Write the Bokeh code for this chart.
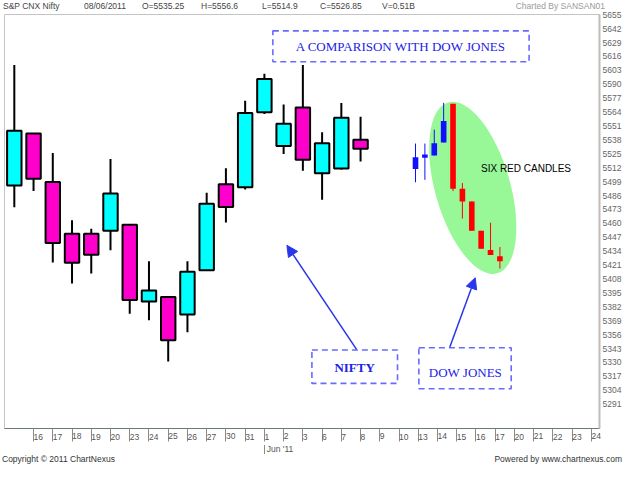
from bokeh.plotting import figure
from bokeh.layouts import column
from bokeh.models import (Range1d, FixedTicker, CustomJSTickFormatter, Label,
                          BoxAnnotation, Arrow, NormalHead, Div)
from bokeh.embed import file_html
from bokeh.resources import INLINE

# ---------------- data ----------------
# trading-day index 0 = 13 May 2011
date_labels = ["13", "16", "17", "18", "19", "20", "23", "24", "25", "26", "27",
               "30", "31", "1", "2", "3", "6", "7", "8", "9", "10", "13", "14",
               "15", "16", "17", "20", "21", "22", "23", "24"]
month_label = "Jun '11"
month_start = 13          # index of 1 June

nifty_open = [5492.3, 5540.9, 5495.6, 5447.4, 5447.4, 5450.1, 5455.8, 5384.0, 5388.1, 5371.8,
              5413.2, 5493.6, 5490.8, 5560.9, 5529.4, 5565.4, 5503.8, 5508.3, 5535.25]
nifty_high = [5605.0, 5540.9, 5522.8, 5460.0, 5451.9, 5517.1, 5455.8, 5421.6, 5388.1, 5421.6,
              5485.7, 5508.6, 5571.7, 5596.8, 5568.1, 5605.0, 5542.1, 5569.6, 5556.6]
nifty_low = [5472.1, 5487.2, 5420.5, 5400.8, 5410.2, 5431.9, 5372.5, 5366.4, 5327.8, 5355.2,
             5413.2, 5457.9, 5488.7, 5559.3, 5521.9, 5506.2, 5479.1, 5507.4, 5514.9]
nifty_close = [5543.6, 5498.6, 5438.6, 5420.2, 5427.7, 5485.0, 5385.4, 5394.2, 5347.7, 5411.7,
               5475.4, 5472.4, 5560.2, 5591.9, 5550.0, 5516.5, 5531.9, 5555.7, 5526.85]

# pasted Dow Jones candles, read on the chart's own price scale
dow_open = [5507.7, 5518.3, 5520.4, 5532.5, 5568.7, 5489.3, 5477.5, 5450.1, 5432.2, 5426.2]
dow_high = [5531.6, 5531.6, 5544.6, 5569.6, 5568.7, 5494.7, 5477.5, 5450.1, 5457.6, 5434.9]
dow_low = [5495.4, 5497.7, 5520.4, 5532.5, 5487.2, 5461.5, 5450.1, 5433.4, 5427.4, 5414.8]
dow_close = [5518.9, 5521.3, 5531.9, 5552.7, 5489.3, 5477.5, 5450.1, 5433.4, 5427.4, 5421.6]

price_labels = [5655, 5642, 5629, 5616, 5603, 5590, 5577, 5564, 5551, 5538, 5525, 5512,
                5499, 5486, 5473, 5460, 5447, 5434, 5421, 5408, 5395, 5382, 5369, 5356,
                5343, 5330, 5317, 5304, 5291]

header_texts = ["S&amp;P CNX Nifty", "08/06/2011", "O=5535.25", "H=5556.6", "L=5514.9",
                "C=5526.85", "V=0.51B"]
credit_text = "Charted By SANSAN01"
copyright_text = "Copyright &copy; 2011 ChartNexus"
powered_text = "Powered by www.chartnexus.com"

# ---------------- layout constants ----------------
W = 624
HEAD_H, FOOT_H = 11, 19
MAIN_H = 464 - HEAD_H - FOOT_H
LEFT_B, RIGHT_B = 4, 23
X0, X1 = -0.51, 30.42
UP, DOWN = "#00FFFF", "#FF00CC"
SANS = "Liberation Sans"
SERIF = "Liberation Serif"
BASE = "font-family:'Liberation Sans',sans-serif;font-size:8.5px;white-space:nowrap;"

# ---------------- header ----------------
hx = [3, 84, 142, 201, 262, 320, 382]
spans = "".join(
    f'<span style="position:absolute;left:{x}px;top:0px;line-height:{HEAD_H}px;color:#444444;">{t}</span>'
    for x, t in zip(hx, header_texts))
spans += (f'<span style="position:absolute;right:19px;top:0px;line-height:{HEAD_H}px;'
          f'color:#9a9a9a;">{credit_text}</span>')
head = Div(width=W, height=HEAD_H, margin=0,
           text=f'<div style="position:relative;width:{W}px;height:{HEAD_H}px;{BASE}">{spans}</div>')

# ---------------- main chart ----------------
p = figure(width=W, height=MAIN_H, output_backend="svg", toolbar_location=None,
           x_range=Range1d(X0, X1), y_range=Range1d(5265.3, 5652.2),
           y_axis_location="right", min_border_left=LEFT_B, min_border_right=RIGHT_B,
           min_border_top=3, min_border_bottom=0)
p.extra_x_ranges = {"dow": Range1d(-43.83, 19.62)}
p.grid.visible = False
p.outline_line_color = "#c4c4c4"

xa = p.xaxis[0]
xa.ticker = FixedTicker(ticks=list(range(1, len(date_labels))))
xa.major_label_overrides = {i: date_labels[i] for i in range(1, len(date_labels))}
xa.major_label_orientation = -1e-6
xa.major_tick_out = 13
xa.major_tick_in = 0
xa.minor_tick_out = 0
xa.major_tick_line_color = "#8a8a8a"
xa.axis_line_color = "#6b7b6b"
xa.major_label_standoff = -5
xa.major_label_text_font = SANS
xa.major_label_text_font_size = "8.5px"
xa.major_label_text_color = "#555555"

ya = p.yaxis[0]
ya.ticker = FixedTicker(ticks=[v - 3 for v in price_labels])
ya.formatter = CustomJSTickFormatter(code="return String(Math.round(tick) + 3);")
ya.major_tick_out = 0
ya.major_tick_in = 0
ya.minor_tick_out = 0
ya.axis_line_color = "#bdbdbd"
ya.axis_line_width = 2
ya.major_label_standoff = 3
ya.major_label_text_font = SANS
ya.major_label_text_font_size = "8.5px"
ya.major_label_text_color = "#666666"

# Nifty candles
idx = list(range(len(nifty_open)))
cols = [UP if c >= o else DOWN for o, c in zip(nifty_open, nifty_close)]
tops = [max(o, c) for o, c in zip(nifty_open, nifty_close)]
bots = [min(o, c) for o, c in zip(nifty_open, nifty_close)]
p.segment(x0=idx, y0=nifty_low, x1=idx, y1=nifty_high, line_color="black", line_width=2)
p.vbar(x=idx, top=tops, bottom=bots, width=0.75, fill_color=cols,
       line_color="black", line_width=2)

# green ellipse + Dow candles
p.ellipse(x=[23.83], y=[5490.2], width=75, height=178, angle=0.28,
          width_units="screen", height_units="screen",
          fill_color="#98F898", line_color=None)

didx = list(range(len(dow_open)))
dcols = ["#1010FF" if c >= o else "#FF0000" for o, c in zip(dow_open, dow_close)]
dtops = [max(o, c) for o, c in zip(dow_open, dow_close)]
dbots = [min(o, c) for o, c in zip(dow_open, dow_close)]
p.segment(x0=didx, y0=dow_low, x1=didx, y1=dow_high, line_color=dcols, line_width=1,
          x_range_name="dow")
p.vbar(x=didx, top=dtops, bottom=dbots, width=0.6, fill_color=dcols, line_color=None,
       x_range_name="dow")

p.add_layout(Label(x=24.26, y=5508.3, text="SIX RED CANDLES", text_font=SANS,
                   text_font_size="10px", text_color="black",
                   text_align="left", text_baseline="middle"))

# callout boxes, texts and arrows
BOXC = "#6a6aff"
TXTC = "#2222e6"
for l, r, t, b in [(13.44, 26.76, 5636.9, 5608.0), (15.47, 19.92, 5338.7, 5307.5),
                   (21.03, 25.83, 5340.8, 5302.4)]:
    p.add_layout(BoxAnnotation(left=l, right=r, top=t, bottom=b, fill_alpha=0,
                               line_color=BOXC, line_alpha=1.0, line_width=1.6,
                               line_dash="6 4"))

p.add_layout(Label(x=20.10, y=5622.5, text="A COMPARISON WITH DOW JONES", text_font=SERIF,
                   text_font_size="13px", text_color=TXTC, text_align="center",
                   text_baseline="middle"))
p.add_layout(Label(x=17.69, y=5322.6, text="NIFTY", text_font=SERIF, text_font_style="bold",
                   text_font_size="13px", text_color=TXTC, text_align="center",
                   text_baseline="middle"))
p.add_layout(Label(x=23.45, y=5317.5, text="DOW JONES", text_font=SERIF,
                   text_font_size="13px", text_color=TXTC, text_align="center",
                   text_baseline="middle"))

ARC = "#2a36ea"
for xs, ys, xe, ye in [(17.79, 5339.2, 14.17, 5436.5), (22.64, 5341.4, 23.96, 5406.2)]:
    p.add_layout(Arrow(x_start=xs, y_start=ys, x_end=xe, y_end=ye, line_color=ARC,
                       line_width=1.5,
                       end=NormalHead(size=11, fill_color=ARC, line_color=ARC)))

# ---------------- footer ----------------
frame_w = W - LEFT_B - RIGHT_B
tick_px = LEFT_B + (month_start - X0) * frame_w / (X1 - X0)
foot_html = (
    f'<div style="position:relative;width:{W}px;height:{FOOT_H}px;{BASE}">'
    f'<span style="position:absolute;left:{tick_px - 0.5:.1f}px;top:0px;width:0px;height:9px;'
    f'border-left:1px solid #8a8a8a;"></span>'
    f'<span style="position:absolute;left:{tick_px + 2:.1f}px;top:0px;line-height:9px;'
    f'color:#555555;">{month_label}</span>'
    f'<span style="position:absolute;left:2px;top:9px;line-height:10px;color:#333333;">'
    f'{copyright_text}</span>'
    f'<span style="position:absolute;right:2px;top:9px;line-height:10px;color:#333333;">'
    f'{powered_text}</span></div>')
foot = Div(width=W, height=FOOT_H, margin=0, text=foot_html)

layout = column(head, p, foot, spacing=0)
open("out.html", "w").write(file_html(layout, INLINE))
